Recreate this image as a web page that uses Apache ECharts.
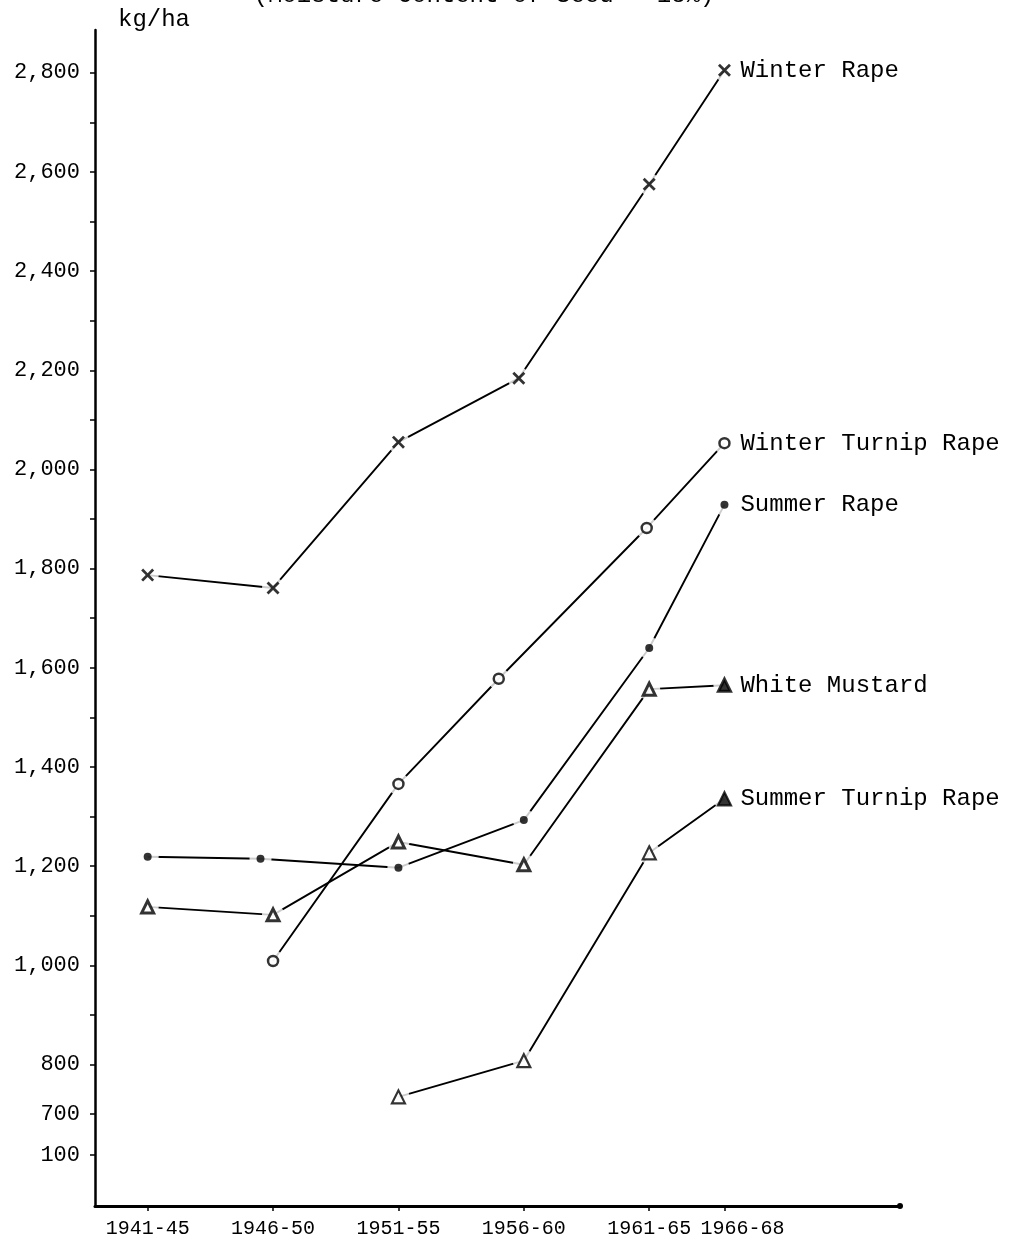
<!DOCTYPE html>
<html>
<head>
<meta charset="utf-8">
<script src="https://cdn.jsdelivr.net/npm/echarts@6/dist/echarts.min.js"></script>
<style>
html,body{margin:0;padding:0;background:#fff;}
#chart{width:1025px;height:1245px;}
</style>
</head>
<body>
<div id="chart"></div>
<script>
// ---- data ----
const periodLabels = ['1941-45', '1946-50', '1951-55', '1956-60', '1961-65', '1966-68'];
const periodX = [1945, 1950, 1955, 1960, 1965, 1968];

const yTickValues = [618, 700, 800, 900, 1000, 1100, 1200, 1300, 1400, 1500, 1600, 1700, 1800, 1900, 2000, 2100, 2200, 2300, 2400, 2500, 2600, 2700, 2800];
const yLabelValues = [618, 700, 800, 1000, 1200, 1400, 1600, 1800, 2000, 2200, 2400, 2600, 2800];
const yLabelTexts = ['100', '700', '800', '1,000', '1,200', '1,400', '1,600', '1,800', '2,000', '2,200', '2,400', '2,600', '2,800'];

const winterRapeX = [1945, 1950, 1955, 1959.8, 1965, 1968];
const winterRapeY = [1787, 1761, 2055, 2184, 2575, 2805];

const winterTurnipRapeX = [1950, 1955, 1959, 1964.9, 1968];
const winterTurnipRapeY = [1009, 1366, 1578, 1882, 2053];

const summerRapeX = [1945, 1949.5, 1955, 1960, 1965, 1968];
const summerRapeY = [1219, 1215, 1197, 1293, 1640, 1929];

const whiteMustardX = [1945, 1950, 1955, 1960, 1965, 1968];
const whiteMustardY = [1118, 1102, 1249, 1203, 1557, 1565];

const summerTurnipRapeX = [1955, 1960, 1965, 1968];
const summerTurnipRapeY = [735, 808, 1227, 1336];

const seriesDefs = [
  {name: 'Winter Rape', x: winterRapeX, y: winterRapeY,
   symbol: 'path://M0,3 L3,0 L10,7 L17,0 L20,3 L13,10 L20,17 L17,20 L10,13 L3,20 L0,17 L7,10 Z',
   size: 13, style: {color: '#000'}},
  {name: 'Winter Turnip Rape', x: winterTurnipRapeX, y: winterTurnipRapeY,
   symbol: 'circle', size: 10, style: {color: '#fff', borderColor: '#000', borderWidth: 2.5}},
  {name: 'Summer Rape', x: summerRapeX, y: summerRapeY,
   symbol: 'circle', size: 8, style: {color: '#000'}},
  {name: 'White Mustard', x: whiteMustardX, y: whiteMustardY, fillLast: true,
   symbol: 'triangle', size: 12, style: {color: '#fff', borderColor: '#000', borderWidth: 3}},
  {name: 'Summer Turnip Rape', x: summerTurnipRapeX, y: summerTurnipRapeY, fillLast: true,
   symbol: 'triangle', size: 13, style: {color: '#fff', borderColor: '#000', borderWidth: 2.2}}
];

const FONT = 'Liberation Mono';
const chart = echarts.init(document.getElementById('chart'), null, {renderer: 'canvas'});

const pts = d => d.x.map((xv, i) => [xv, d.y[i]]);

const series = [];
seriesDefs.forEach(d => {
  series.push({
    name: d.name, type: 'line', data: pts(d), showSymbol: false, z: 2,
    lineStyle: {color: '#000', width: 1.9},
    endLabel: {show: true, formatter: p => p.seriesName, distance: 16,
      color: '#000', fontFamily: FONT, fontSize: 24},
    emphasis: {disabled: true}, silent: true
  });
});
// white halos so lines stop short of the markers
const haloData = [];
seriesDefs.forEach(d => pts(d).forEach(p => haloData.push(p)));
series.push({
  name: 'halo', type: 'scatter', data: haloData, symbol: 'circle', symbolSize: 22,
  itemStyle: {color: '#fff'}, z: 3, silent: true
});
seriesDefs.forEach(d => {
  const data = pts(d).map((p, i, arr) =>
    (d.fillLast && i === arr.length - 1) ? {value: p, itemStyle: {color: '#000'}} : p);
  series.push({
    name: d.name + ' marker', type: 'scatter', data: data, symbol: d.symbol, symbolSize: d.size,
    itemStyle: d.style, z: 4, silent: true
  });
});

chart.setOption({
  backgroundColor: '#fff',
  animation: false,
  grid: {left: 95, right: 125, top: 30, bottom: 39},
  xAxis: {
    type: 'value', min: 1942.9, max: 1975,
    splitLine: {show: false},
    axisLine: {show: true, lineStyle: {color: '#000', width: 3}, symbol: ['none', 'circle'], symbolSize: [6, 6]},
    axisTick: {show: true, customValues: periodX, length: 5, lineStyle: {color: '#000', width: 1.5}},
    axisLabel: {
      show: true, customValues: periodX, margin: 13, color: '#000', fontFamily: FONT, fontSize: 20,
      formatter: v => {
        const i = periodX.indexOf(v);
        return i === periodX.length - 1 ? '{last|' + periodLabels[i] + '}' : periodLabels[i];
      },
      rich: {last: {fontFamily: FONT, fontSize: 20, color: '#000', padding: [0, 0, 0, 36]}}
    }
  },
  yAxis: {
    type: 'value', min: 515, max: 2886,
    splitLine: {show: false},
    axisLine: {show: true, lineStyle: {color: '#000', width: 2.5}},
    axisTick: {show: true, customValues: yTickValues, length: 5, lineStyle: {color: '#000', width: 1.5}},
    axisLabel: {
      show: true, customValues: yLabelValues, margin: 15, color: '#000', fontFamily: FONT, fontSize: 22,
      formatter: v => yLabelTexts[yLabelValues.indexOf(v)]
    }
  },
  graphic: [
    {type: 'text', x: 154, y: 20, style: {text: 'kg/ha', fontFamily: FONT, fontSize: 24, fill: '#000',
      align: 'center', verticalAlign: 'middle'}},
    {type: 'text', x: 484, y: 8, style: {text: '(Moisture Content of Seed = 18%)', fontFamily: FONT, fontSize: 24,
      fill: '#000', align: 'center', verticalAlign: 'bottom'}}
  ],
  series: series
});
</script>
</body>
</html>
